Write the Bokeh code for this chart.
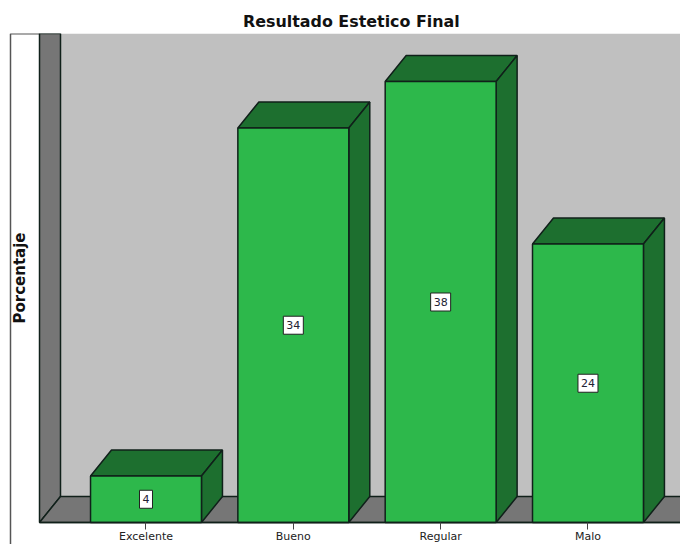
from bokeh.core.properties import value
from bokeh.embed import file_html
from bokeh.models import ColumnDataSource, FixedTicker, Range1d
from bokeh.plotting import figure
from bokeh.resources import INLINE

# Outcome categories and their percentages
categories = ["Excelente", "Bueno", "Regular", "Malo"]
percentages = [4, 34, 38, 24]

# Chart colours
WALL = "#c0c0c0"
SIDE_GREY = "#767676"
BAR_FRONT = "#2db84b"
BAR_SHADE = "#1d6f2f"
EDGE = "#10201a"

# Box extent and the oblique depth of the 3D look, in data units
BOX_LEFT, BOX_RIGHT = -0.7228, 3.628
BOX_TOP = 42.14
DEPTH_X = 0.1425
DEPTH_Y = 2.24
BAR_WIDTH = 0.753

# The frame reaches past the box so the axis-title panel and tick labels sit inside it
VIEW_LEFT = -0.9333
VIEW_BOTTOM = -1.897
PANEL_LEFT = -0.9197

positions = list(range(len(categories)))

p = figure(
    width=680,
    height=544,
    frame_width=672,
    frame_height=511,
    x_range=Range1d(VIEW_LEFT, BOX_RIGHT),
    y_range=Range1d(VIEW_BOTTOM, BOX_TOP),
    output_backend="svg",
    toolbar_location=None,
    min_border_left=8,
    min_border_right=0,
    min_border_top=33,
    min_border_bottom=0,
    title="Resultado Estetico Final",
    background_fill_color="white",
    border_fill_color="white",
    outline_line_color=None,
)
p.title.align = "left"
p.title.offset = 234.5
p.title.text_font = "DejaVu Sans"
p.title.text_font_style = "bold"
p.title.text_font_size = "15.9px"
p.title.text_color = "#111111"
p.title.standoff = 6

# Outline of the panel behind the vertical axis title
p.line([PANEL_LEFT, PANEL_LEFT, BOX_LEFT], [VIEW_BOTTOM, BOX_TOP - 0.02, BOX_TOP - 0.02],
       line_color="#555555", line_width=1.5)

# Back wall, left wall and floor of the box
p.quad(left=BOX_LEFT, right=BOX_RIGHT + 1, bottom=0, top=BOX_TOP, fill_color=WALL, line_color=None)
p.patch([BOX_LEFT, BOX_LEFT + DEPTH_X, BOX_LEFT + DEPTH_X, BOX_LEFT], [0, DEPTH_Y, BOX_TOP, BOX_TOP],
        fill_color=SIDE_GREY, line_color=EDGE, line_width=1.5)
p.patch([BOX_LEFT, BOX_RIGHT + 1, BOX_RIGHT + 1, BOX_LEFT + DEPTH_X], [0, 0, DEPTH_Y, DEPTH_Y],
        fill_color=SIDE_GREY, line_color=EDGE, line_width=1.5)

# Bars: top and side faces first, then the front
half = BAR_WIDTH / 2
for x, v in zip(positions, percentages):
    p.patch([x - half, x + half, x + half + DEPTH_X, x - half + DEPTH_X],
            [v, v, v + DEPTH_Y, v + DEPTH_Y],
            fill_color=BAR_SHADE, line_color=EDGE, line_width=1.5)
    p.patch([x + half, x + half + DEPTH_X, x + half + DEPTH_X, x + half],
            [0, DEPTH_Y, v + DEPTH_Y, v],
            fill_color=BAR_SHADE, line_color=EDGE, line_width=1.5)

source = ColumnDataSource(dict(
    x=positions,
    top=percentages,
    mid=[v / 2 for v in percentages],
    text=[str(v) for v in percentages],
))
p.vbar(x="x", top="top", bottom=0, width=BAR_WIDTH, source=source,
       fill_color=BAR_FRONT, line_color=EDGE, line_width=1.5)

# Value tags in the middle of each bar
p.text(
    x="x", y="mid", text="text", source=source,
    text_align="center", text_baseline="middle",
    text_font=value("DejaVu Sans"), text_font_size="11px", text_color="#222233",
    background_fill_color="white", border_line_color="#222222", border_line_width=1,
    padding=(3, 3, 5, 5),
)

# Axes, pinned to the corner of the box
p.xaxis.fixed_location = 0
p.xaxis.bounds = (BOX_LEFT, BOX_RIGHT)
p.xaxis.ticker = FixedTicker(ticks=positions)
p.xaxis.major_label_overrides = dict(zip(positions, categories))
p.xaxis.major_label_text_font = "DejaVu Sans"
p.xaxis.major_label_text_font_size = "11px"
p.xaxis.major_label_text_color = "#222222"
p.xaxis.major_label_standoff = 1
p.xaxis.major_tick_in = 0
p.xaxis.major_tick_out = 7
p.xaxis.minor_tick_line_color = None
p.xaxis.major_tick_line_color = "#444444"
p.xaxis.axis_line_color = EDGE
p.xaxis.axis_line_width = 1.5

p.yaxis.fixed_location = BOX_LEFT
p.yaxis.bounds = (0, BOX_TOP)
p.yaxis.ticker = FixedTicker(ticks=[])
p.yaxis.axis_line_color = None
p.yaxis.major_tick_line_color = None
p.yaxis.minor_tick_line_color = None
p.yaxis.major_label_text_font_size = "0px"
p.yaxis.axis_label = "Porcentaje"
p.yaxis.axis_label_text_font = "DejaVu Sans"
p.yaxis.axis_label_text_font_style = "bold"
p.yaxis.axis_label_text_font_size = "15px"
p.yaxis.axis_label_text_color = "#111111"
p.yaxis.axis_label_standoff = 11

p.grid.visible = False

open("out.html", "w").write(file_html(p, INLINE))
